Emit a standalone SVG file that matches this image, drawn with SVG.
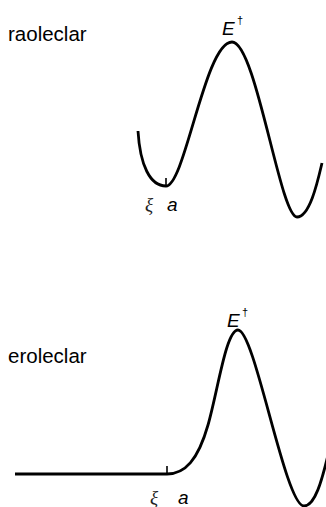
<svg xmlns="http://www.w3.org/2000/svg" width="326" height="507" viewBox="0 0 326 507">
<style>
.curve{fill:none;stroke:#000;stroke-width:2.8;stroke-linecap:butt;stroke-linejoin:round}
.tick{fill:none;stroke:#000;stroke-width:1.6}
.lbl{font-family:"Liberation Sans",Arial,sans-serif;font-size:20.5px;fill:#000}
.it{font-family:"Liberation Sans",Arial,sans-serif;font-style:italic;font-size:19px;fill:#000}
.dag{font-family:"Liberation Sans",Arial,sans-serif;font-size:11px;fill:#000}
.xi{font-family:"Liberation Serif","DejaVu Serif",serif;font-style:italic;font-size:19px;fill:#222}
</style>
<g id="top-panel">
  <text class="lbl" x="8" y="41">raoleclar</text>
  <g id="top-curve">
    <path class="curve" d="M138,131 C140,165 150,186 166,186 C185,186 205,42 232,42 C256,42 280,217 297,217 C310,217 318,180 322,163"/>
    <line class="tick" x1="166" y1="178" x2="166" y2="186"/>
  </g>
  <g id="top-Edagger">
    <text class="it" x="222" y="35">E</text>
    <text class="dag" x="237" y="24">†</text>
  </g>
  <g id="top-xi-a">
    <text class="xi" x="145" y="211">ξ</text>
    <text class="it" x="167" y="211">a</text>
  </g>
</g>
<g id="bottom-panel">
  <text class="lbl" x="8" y="363">eroleclar</text>
  <g id="bottom-curve">
    <path class="curve" d="M15,474 H167 C185,474 198,460 208,425 C218,390 226,330 238,330 C255,330 285,506 304,506 C315,506 322,480 328,455"/>
    <line class="tick" x1="167" y1="466" x2="167" y2="474"/>
  </g>
  <g id="bottom-Edagger">
    <text class="it" x="227" y="327">E</text>
    <text class="dag" x="242" y="316">†</text>
  </g>
  <g id="bottom-xi-a">
    <text class="xi" x="150" y="504">ξ</text>
    <text class="it" x="178" y="504">a</text>
  </g>
</g>
</svg>
